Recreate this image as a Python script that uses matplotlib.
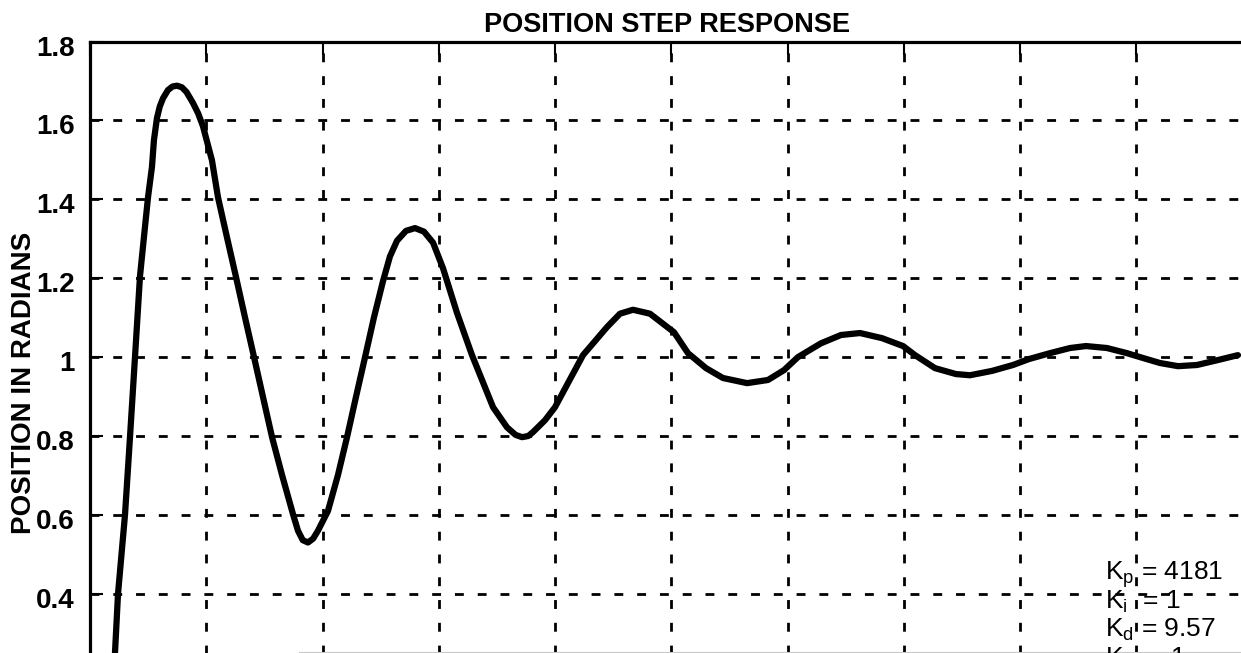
import matplotlib
matplotlib.use('Agg')
import matplotlib.pyplot as plt
from matplotlib.lines import Line2D
from matplotlib.transforms import ScaledTranslation

plt.rcParams['font.family'] = ['Liberation Sans', 'DejaVu Sans']
plt.rcParams['mathtext.fontset'] = 'custom'
plt.rcParams['mathtext.rm'] = 'Liberation Sans'
plt.rcParams['mathtext.it'] = 'Liberation Sans'

# time in grid divisions, position in radians
t = [0.215, 0.241, 0.301, 0.344, 0.387, 0.430, 0.473, 0.499, 0.533, 0.550,
     0.576, 0.600, 0.628, 0.671, 0.710, 0.748, 0.790, 0.830, 0.886, 0.930,
     0.972, 1.049, 1.101, 1.178, 1.256, 1.333, 1.411, 1.488, 1.566, 1.652,
     1.746, 1.789, 1.830, 1.875, 1.920, 1.961, 2.047, 2.133, 2.211, 2.288,
     2.366, 2.443, 2.520, 2.580, 2.641, 2.718, 2.796, 2.873, 2.951, 3.037,
     3.157, 3.286, 3.467, 3.587, 3.660, 3.716, 3.770, 3.811, 3.914, 4.000,
     4.241, 4.447, 4.559, 4.671, 4.817, 5.024, 5.144, 5.299, 5.445, 5.652,
     5.832, 5.970, 6.090, 6.288, 6.460, 6.624, 6.813, 6.994, 7.097, 7.269,
     7.449, 7.570, 7.759, 7.940, 8.077, 8.258, 8.430, 8.568, 8.748, 8.920,
     9.032, 9.204, 9.359, 9.523, 9.695, 9.875]
pos = [0.251, 0.400, 0.600, 0.797, 1.000, 1.205, 1.330, 1.405, 1.482, 1.550,
       1.606, 1.635, 1.656, 1.677, 1.686, 1.688, 1.684, 1.672, 1.644, 1.618,
       1.585, 1.499, 1.405, 1.304, 1.203, 1.101, 1.000, 0.899, 0.797, 0.701,
       0.602, 0.560, 0.536, 0.530, 0.540, 0.560, 0.610, 0.701, 0.797, 0.899,
       1.000, 1.101, 1.192, 1.255, 1.295, 1.320, 1.327, 1.318, 1.290, 1.225,
       1.112, 1.005, 0.873, 0.822, 0.803, 0.797, 0.800, 0.810, 0.840, 0.873,
       1.005, 1.076, 1.110, 1.120, 1.110, 1.063, 1.010, 0.972, 0.947, 0.934,
       0.942, 0.967, 1.000, 1.035, 1.056, 1.061, 1.048, 1.028, 1.005, 0.972,
       0.957, 0.954, 0.965, 0.980, 0.995, 1.010, 1.023, 1.028, 1.023, 1.010,
       1.000, 0.985, 0.977, 0.980, 0.992, 1.005]

y_ticks = [0, 0.2, 0.4, 0.6, 0.8, 1.0, 1.2, 1.4, 1.6, 1.8]
y_labels = ['0', '0.2', '0.4', '0.6', '0.8', '1', '1.2', '1.4', '1.6', '1.8']
x_ticks = list(range(11))

gains = [r'K$_{\rm p}$ = 4181', r'K$_{\rm i}$  = 1', r'K$_{\rm d}$ = 9.57', r'K$_{\rm v}$  = 1']

W, H = 1241, 653
fig = plt.figure(figsize=(W / 100, H / 100), dpi=100)
# scan is cropped: axes run past the bottom and right edges
ax = fig.add_axes([90 / W, 1 - 751.6 / H, 1162.5 / W, 710.1 / H])

ax.plot(t, pos, color='black', lw=4.5, solid_joinstyle='round', solid_capstyle='round')

ax.set_xlim(0, 10)
ax.set_ylim(0, 1.8)
ax.set_xticks(x_ticks)
ax.set_yticks(y_ticks)
ax.set_yticklabels(y_labels, fontsize=20, fontweight='bold')
ax.tick_params(direction='in', length=9, width=1.5, top=True, right=True, pad=11,
               labelbottom=False)
ax.grid(True, color='black', linestyle=(0, (3.2, 5.0)), linewidth=2.0)
for s in ax.spines.values():
    s.set_linewidth(2.3)

# labels sit a few pixels below their ticks in the scan
shift = ScaledTranslation(0, -4 / 100, fig.dpi_scale_trans)
for lab in ax.get_yticklabels():
    lab.set_transform(lab.get_transform() + shift)

fig.text(667 / W, 1 - 32 / H, 'POSITION STEP RESPONSE', ha='center', va='baseline',
         fontsize=19.5, fontweight='bold')
fig.text(24 / W, 1 - 383 / H, 'POSITION IN RADIANS', rotation=90, ha='center',
         va='center', fontsize=20, fontweight='bold')

for i, g in enumerate(gains):
    fig.text(1105 / W, 1 - (580 + 28.5 * i) / H, g, fontsize=19, va='baseline')

# faint edge of the page at the bottom of the scan
fig.add_artist(Line2D([299 / W, 1], [1 - 652 / H] * 2, color='#c8c8c8', lw=0.8,
                      transform=fig.transFigure))

fig.savefig('out.png', dpi=100)
